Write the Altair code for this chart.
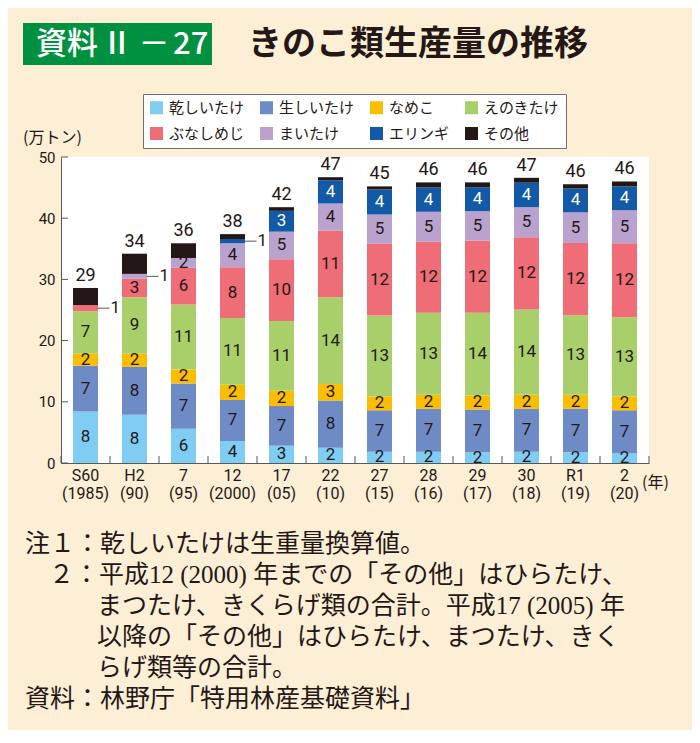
import altair as alt
import pandas as pd

# ---------------- data ----------------
years = ["S60 (1985)", "H2 (90)", "7 (95)", "12 (2000)", "17 (05)", "22 (10)",
         "27 (15)", "28 (16)", "29 (17)", "30 (18)", "R1 (19)", "2 (20)"]
series = ["乾しいたけ", "生しいたけ", "なめこ", "えのきたけ",
          "ぶなしめじ", "まいたけ", "エリンギ", "その他"]
colors = ["#7fcdf3", "#6f8bc6", "#fbbd00", "#a9cf6b",
          "#ee6d76", "#baa2cf", "#1259a8", "#231815"]

hoshi = [8.4, 7.9, 5.6, 3.6, 2.8, 2.5, 1.85, 1.85, 1.75, 1.85, 1.75, 1.6]
nama = [7.5, 7.8, 7.4, 6.7, 6.5, 7.7, 6.75, 7.0, 7.0, 7.0, 7.1, 7.0]
nameko = [2.0, 2.2, 2.3, 2.5, 2.5, 2.7, 2.3, 2.3, 2.3, 2.3, 2.3, 2.3]
enoki = [6.9, 9.2, 10.6, 10.9, 11.4, 14.2, 13.2, 13.4, 13.5, 13.95, 13.0, 12.9]
buna = [1.0, 3.0, 6.0, 8.3, 10.1, 10.9, 11.7, 11.6, 11.8, 11.8, 11.8, 12.1]
mai = [0.0, 0.8, 1.6, 3.9, 4.5, 4.4, 4.8, 4.9, 4.8, 4.9, 5.0, 5.4]
eringi = [0.0, 0.0, 0.0, 0.7, 3.4, 3.8, 4.1, 4.0, 3.9, 4.0, 3.9, 3.9]
other = [2.8, 3.3, 2.4, 0.8, 0.6, 0.5, 0.5, 0.8, 0.8, 0.8, 0.7, 0.8]

hoshi_lbl = ["8", "8", "6", "4", "3", "2", "2", "2", "2", "2", "2", "2"]
nama_lbl = ["7", "8", "7", "7", "7", "8", "7", "7", "7", "7", "7", "7"]
nameko_lbl = ["2", "2", "2", "2", "2", "3", "2", "2", "2", "2", "2", "2"]
enoki_lbl = ["7", "9", "11", "11", "11", "14", "13", "13", "14", "14", "13", "13"]
buna_lbl = ["1", "3", "6", "8", "10", "11", "12", "12", "12", "12", "12", "12"]
mai_lbl = ["", "1", "2", "4", "5", "4", "5", "5", "5", "5", "5", "5"]
eringi_lbl = ["", "", "", "1", "3", "4", "4", "4", "4", "4", "4", "4"]
other_lbl = [""] * 12

totals = ["29", "34", "36", "38", "42", "47", "45", "46", "46", "47", "46", "46"]
ytick_values = [0, 10, 20, 30, 40, 50]

badge_parts = ["資料", "Ⅱ", "－", "27"]
title_main = "きのこ類生産量の推移"
unit_y = "(万トン)"
unit_x = "(年)"
note1 = "注１：乾しいたけは生重量換算値。"
note2 = "２：平成12 (2000) 年までの「その他」はひらたけ、"
note2_cont = ["まつたけ、きくらげ類の合計。平成17 (2005) 年",
              "以降の「その他」はひらたけ、まつたけ、きく",
              "らげ類等の合計。"]
source = "資料：林野庁「特用林産基礎資料」"

# ---------------- table ----------------
vals = [hoshi, nama, nameko, enoki, buna, mai, eringi, other]
lbls = [hoshi_lbl, nama_lbl, nameko_lbl, enoki_lbl, buna_lbl, mai_lbl, eringi_lbl, other_lbl]
rows = []
for i, yr in enumerate(years):
    for j, s in enumerate(series):
        rows.append(dict(year=yr, series=s, idx=j, value=vals[j][i], label=lbls[j][i],
                         total=totals[i], last=(i == len(years) - 1)))
df = pd.DataFrame(rows)

DARK = "#231815"
GRAY = "#595757"
BG = "#fdeed6"
JP = "Noto Sans CJK JP"
NUM = "Roboto, Noto Sans CJK JP"
NOTEFONT = "Liberation Serif, Noto Sans CJK JP"

W, H = 588, 306
yscale = alt.Scale(domain=[0, 50], nice=False, zero=True)
xaxis = alt.Axis(labelExpr="split(datum.label, ' ')", ticks=False, labelAngle=0,
                 labelFont=NUM, labelFontSize=16, labelLineHeight=18, labelPadding=4,
                 labelColor=DARK, domainColor=GRAY, domainWidth=1, grid=False, title=None)
yaxis = alt.Axis(values=ytick_values, ticks=False, grid=False, labelFont=NUM,
                 labelFontSize=15, labelColor=DARK, labelPadding=6,
                 domainColor=GRAY, domainWidth=1, title=None)


def X(bp=None):
    kw = dict(sort=years, scale=alt.Scale(paddingInner=0.49, paddingOuter=0.245),
              axis=xaxis, title=None)
    if bp is not None:
        kw["bandPosition"] = bp
    return alt.X("year:N", **kw)


def Y(field):
    return alt.Y(field, scale=yscale, axis=yaxis, title=None)


stacked = alt.Chart(df).transform_stack(
    stack="value", groupby=["year"], as_=["y0", "y1"],
    sort=[alt.SortField("idx", order="ascending")])

bars = stacked.mark_bar().encode(
    x=X(), y=Y("y0:Q"), y2="y1:Q",
    color=alt.Color("series:N", scale=alt.Scale(domain=series, range=colors),
                    legend=alt.Legend(title=None, orient="none", legendX=82, legendY=-63,
                                      direction="horizontal", columns=4,
                                      symbolType="square", symbolSize=169,
                                      symbolStrokeWidth=0, symbolOpacity=1,
                                      labelFont=JP, labelFontSize=15, labelColor=DARK,
                                      labelOffset=5, columnPadding=14, rowPadding=10,
                                      padding=6, fillColor="white", strokeColor="#717071",
                                      labelLimit=300)),
    order=alt.Order("idx:Q", sort="ascending"))

inside = stacked.transform_filter(
    "datum.label != '' && datum.value >= 1.5"
).transform_calculate(mid="(datum.y0 + datum.y1) / 2").mark_text(
    font=NUM, fontSize=17, baseline="middle").encode(
    x=X(), y=Y("mid:Q"), text="label:N",
    color=alt.condition("datum.series == 'エリンギ'", alt.value("white"), alt.value(DARK)))

callout_base = stacked.transform_filter(
    "datum.label != '' && datum.value < 1.5"
).transform_calculate(mid="(datum.y0 + datum.y1) / 2")
callout_line = callout_base.mark_tick(orient="horizontal", size=12, thickness=1,
                                      xOffset=18, color=GRAY, opacity=1).encode(
    x=X(), y=Y("mid:Q"))
callout_text = callout_base.mark_text(align="left", dx=25, font=NUM, fontSize=17,
                                      baseline="middle", color=DARK).encode(
    x=X(), y=Y("mid:Q"), text="label:N")

total_text = stacked.transform_filter("datum.idx == 7").mark_text(
    baseline="bottom", dy=-3, font=NUM, fontSize=18, color=DARK).encode(
    x=X(), y=Y("y1:Q"), text="total:N")

xticks = alt.Chart(df).transform_filter("datum.idx == 0").mark_rule(
    xOffset=-12, color=GRAY, strokeWidth=1).encode(
    x=X(0), y=alt.value(H), y2=alt.value(H - 7))
xtick_end = alt.Chart(df).transform_filter("datum.idx == 0 && datum.last").mark_rule(
    xOffset=12, color=GRAY, strokeWidth=1).encode(
    x=X(1), y=alt.value(H), y2=alt.value(H - 7))
yticks = alt.Chart(pd.DataFrame({"v": ytick_values})).mark_rule(
    color=GRAY, strokeWidth=1).encode(
    y=Y("v:Q"), x=alt.value(0), x2=alt.value(7))

dummy = pd.DataFrame({"a": [0]})
badge = alt.Chart(dummy).mark_rect(color="#009140").encode(
    x=alt.value(-38), x2=alt.value(151), y=alt.value(-134), y2=alt.value(-92))
badge_kw = dict(baseline="middle", font=JP, fontSize=31, color="white", fontWeight=500)
b1 = alt.Chart(dummy).mark_text(align="left", **badge_kw).encode(
    x=alt.value(-25), y=alt.value(-112), text=alt.value(badge_parts[0]))
b2 = alt.Chart(dummy).mark_text(align="center", **badge_kw).encode(
    x=alt.value(56), y=alt.value(-112), text=alt.value(badge_parts[1]))
b3 = alt.Chart(dummy).mark_text(align="center", **badge_kw).encode(
    x=alt.value(93), y=alt.value(-112), text=alt.value(badge_parts[2]))
b4 = alt.Chart(dummy).mark_text(align="left", **badge_kw).encode(
    x=alt.value(112), y=alt.value(-112), text=alt.value(badge_parts[3]))
main_title = alt.Chart(dummy).mark_text(
    align="left", baseline="middle", font=JP, fontSize=34, fontWeight="bold",
    color=DARK).encode(x=alt.value(187), y=alt.value(-112), text=alt.value(title_main))
unit_y_t = alt.Chart(dummy).mark_text(
    align="left", baseline="middle", font=JP, fontSize=16, color=DARK).encode(
    x=alt.value(-38), y=alt.value(-19), text=alt.value(unit_y))
unit_x_t = alt.Chart(dummy).mark_text(
    align="left", baseline="middle", font=JP, fontSize=16, color=DARK).encode(
    x=alt.value(581), y=alt.value(326), text=alt.value(unit_x))

note_kw = dict(align="left", baseline="middle", font=NOTEFONT, fontSize=25, color=DARK)
n1 = alt.Chart(dummy).mark_text(**note_kw).encode(
    x=alt.value(-36), y=alt.value(387), text=alt.value(note1))
n2 = alt.Chart(dummy).mark_text(**note_kw).encode(
    x=alt.value(-12), y=alt.value(418), text=alt.value(note2))
n3 = alt.Chart(dummy).mark_text(lineHeight=31, **note_kw).encode(
    x=alt.value(36), y=alt.value(449), text=alt.value(note2_cont))
n4 = alt.Chart(dummy).mark_text(**note_kw).encode(
    x=alt.value(-36), y=alt.value(542), text=alt.value(source))

chart = alt.layer(
    bars, inside, callout_line, callout_text, total_text, xticks, xtick_end, yticks,
    badge, b1, b2, b3, b4, main_title, unit_y_t, unit_x_t, n1, n2, n3, n4
).properties(
    width=W, height=H,
    padding={"left": 53, "top": 149, "right": 43, "bottom": 267},
    autosize=alt.AutoSizeParams(type="none"),
    background=BG,
).configure_view(fill="white", strokeWidth=0)

chart.save("out.html", embed_options={"renderer": "svg", "actions": False})
